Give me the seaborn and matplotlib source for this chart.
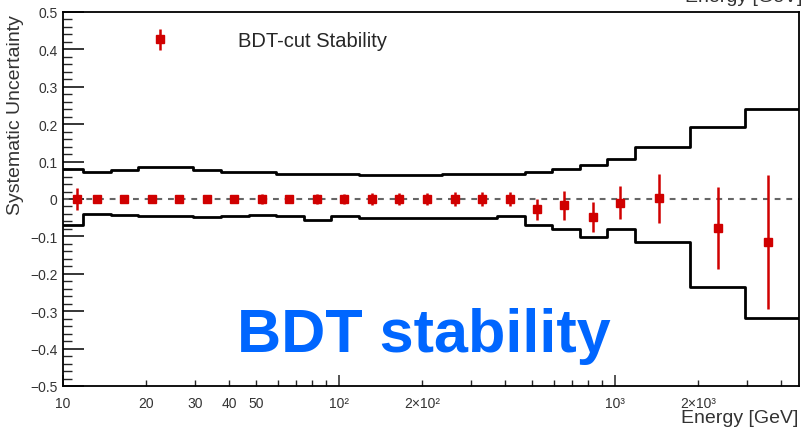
import numpy as np
import matplotlib
matplotlib.use('Agg')
import matplotlib.pyplot as plt
from matplotlib.ticker import FixedLocator, FuncFormatter, MultipleLocator
import seaborn as sns

# energy bins [GeV] and the systematic band (upper / lower edge per bin)
bin_edges = [10, 11.82, 14.88, 18.73, 23.58, 29.69, 37.37, 47.05, 59.23, 74.57, 93.87,
             118.2, 148.8, 187.3, 235.8, 296.9, 373.7, 470.5, 592.3, 745.7, 938.7,
             1182, 1871, 2958, 4645]
band_up = [0.080, 0.072, 0.078, 0.085, 0.085, 0.077, 0.073, 0.071, 0.068, 0.067, 0.066, 0.065,
           0.064, 0.064, 0.066, 0.066, 0.068, 0.071, 0.080, 0.091, 0.107, 0.138, 0.193, 0.241]
band_low = [-0.070, -0.040, -0.042, -0.045, -0.045, -0.047, -0.045, -0.043, -0.045, -0.055,
            -0.045, -0.052, -0.050, -0.052, -0.052, -0.052, -0.046, -0.070, -0.081, -0.101,
            -0.081, -0.116, -0.236, -0.318]

# BDT-cut stability points
energy = [11.24, 13.28, 16.63, 21.01, 26.32, 33.24, 41.65, 52.6, 65.9, 83.2, 104.3, 131.7,
          165.0, 208.4, 263.3, 329.8, 416.6, 521.7, 653.5, 832.4, 1043, 1443, 2362, 3584]
stability = [0.0, 0.0, 0.0, 0.0, 0.0, 0.0, 0.0, 0.0, 0.0, 0.0, 0.0, 0.0,
             0.0, 0.0, 0.0, 0.0, 0.0, -0.027, -0.017, -0.047, -0.010, 0.002, -0.077, -0.115]
stability_err = [0.030, 0.006, 0.006, 0.012, 0.006, 0.012, 0.008, 0.014, 0.012, 0.014, 0.014, 0.016,
                 0.016, 0.016, 0.018, 0.020, 0.020, 0.028, 0.038, 0.040, 0.044, 0.065, 0.110, 0.179]

# x tick labels
major_lab = {10: '10', 100: '10²', 1000: '10³'}
minor_lab = {20: '20', 30: '30', 40: '40', 50: '50', 200: '2×10²', 2000: '2×10³'}

sns.set_style('ticks')
plt.rcParams['font.family'] = ['Liberation Sans', 'DejaVu Sans']

fig = plt.figure(figsize=(8.01, 4.31), dpi=100)
ax = fig.add_axes([63 / 801, 44 / 431, 736 / 801, 374 / 431])
ax.set_xscale('log')

red = '#d00000'
txt = '#333333'

sns.lineplot(x=bin_edges, y=band_up + [band_up[-1]], drawstyle='steps-post',
             color='black', lw=2, estimator=None, ax=ax)
sns.lineplot(x=bin_edges, y=band_low + [band_low[-1]], drawstyle='steps-post',
             color='black', lw=2, estimator=None, ax=ax)

ax.axhline(0, color='#666666', lw=1.5, ls=(0, (2.8, 2.8)), zorder=1)

ax.errorbar(energy, stability, yerr=stability_err, fmt='s', color=red, ms=5.5,
            elinewidth=1.8, capsize=0, label='BDT-cut Stability', zorder=5)

ax.set_xlim(10, 4645)
ax.set_ylim(-0.5, 0.5)

# y axis ticks (ROOT style, inside)
ax.yaxis.set_major_locator(MultipleLocator(0.1))
ax.yaxis.set_minor_locator(MultipleLocator(0.02))
ax.yaxis.set_major_formatter(FuncFormatter(
    lambda v, p: '0' if abs(v) < 1e-9 else ('%.1f' % v).replace('-', '\u2212')))
ax.tick_params(axis='y', which='major', direction='in', length=15, width=1.1,
               labelsize=10, pad=4, colors='black', labelcolor=txt)
ax.tick_params(axis='y', which='minor', direction='in', length=6.5, width=1.0)
ax.tick_params(axis='y', right=False, which='both')

# x axis ticks
ax.xaxis.set_major_locator(FixedLocator([10, 100, 1000]))
ax.xaxis.set_major_formatter(FuncFormatter(lambda v, p: major_lab.get(int(round(v)), '')))
minor_pos = [20, 30, 40, 50, 60, 70, 80, 90, 200, 300, 400, 500, 600, 700, 800, 900,
             2000, 3000, 4000]
ax.xaxis.set_minor_locator(FixedLocator(minor_pos))
ax.xaxis.set_minor_formatter(FuncFormatter(lambda v, p: minor_lab.get(int(round(v)), '')))
ax.tick_params(axis='x', which='major', direction='in', length=8, width=1.1,
               labelsize=10, pad=7, labelcolor=txt)
ax.tick_params(axis='x', which='minor', direction='in', length=4.5, width=1.0,
               labelsize=10, pad=7, labelcolor=txt)
ax.tick_params(axis='x', top=False, which='both')

for s in ax.spines.values():
    s.set_color('black')
    s.set_linewidth(1.3)

ax.set_ylabel('Systematic Uncertainty', fontsize=14, color=txt)
ax.yaxis.label.set(rotation_mode='default', ha='center', va='top')
ax.yaxis.set_label_coords(-0.0652, 0.9947)
ax.set_xlabel('Energy [GeV]', fontsize=14, color=txt)
ax.xaxis.label.set(ha='right', va='center')
ax.xaxis.set_label_coords(0.9986, -0.085)

ax.legend(loc='center left', bbox_to_anchor=(0.1046, 0.9225), frameon=False,
          fontsize=14.5, handlelength=2, handletextpad=2.85, borderpad=0,
          borderaxespad=0)

# cropped title of the plot above
fig.text(685 / 801, 1 - 2 / 431, 'Energy [GeV]', fontsize=14, color=txt,
         ha='left', va='baseline')

fig.text(237 / 801, 1 - 352 / 431, 'BDT stability', fontsize=44, fontweight='bold',
         color='#0066ff', ha='left', va='baseline')

fig.savefig('out.png', dpi=100)
